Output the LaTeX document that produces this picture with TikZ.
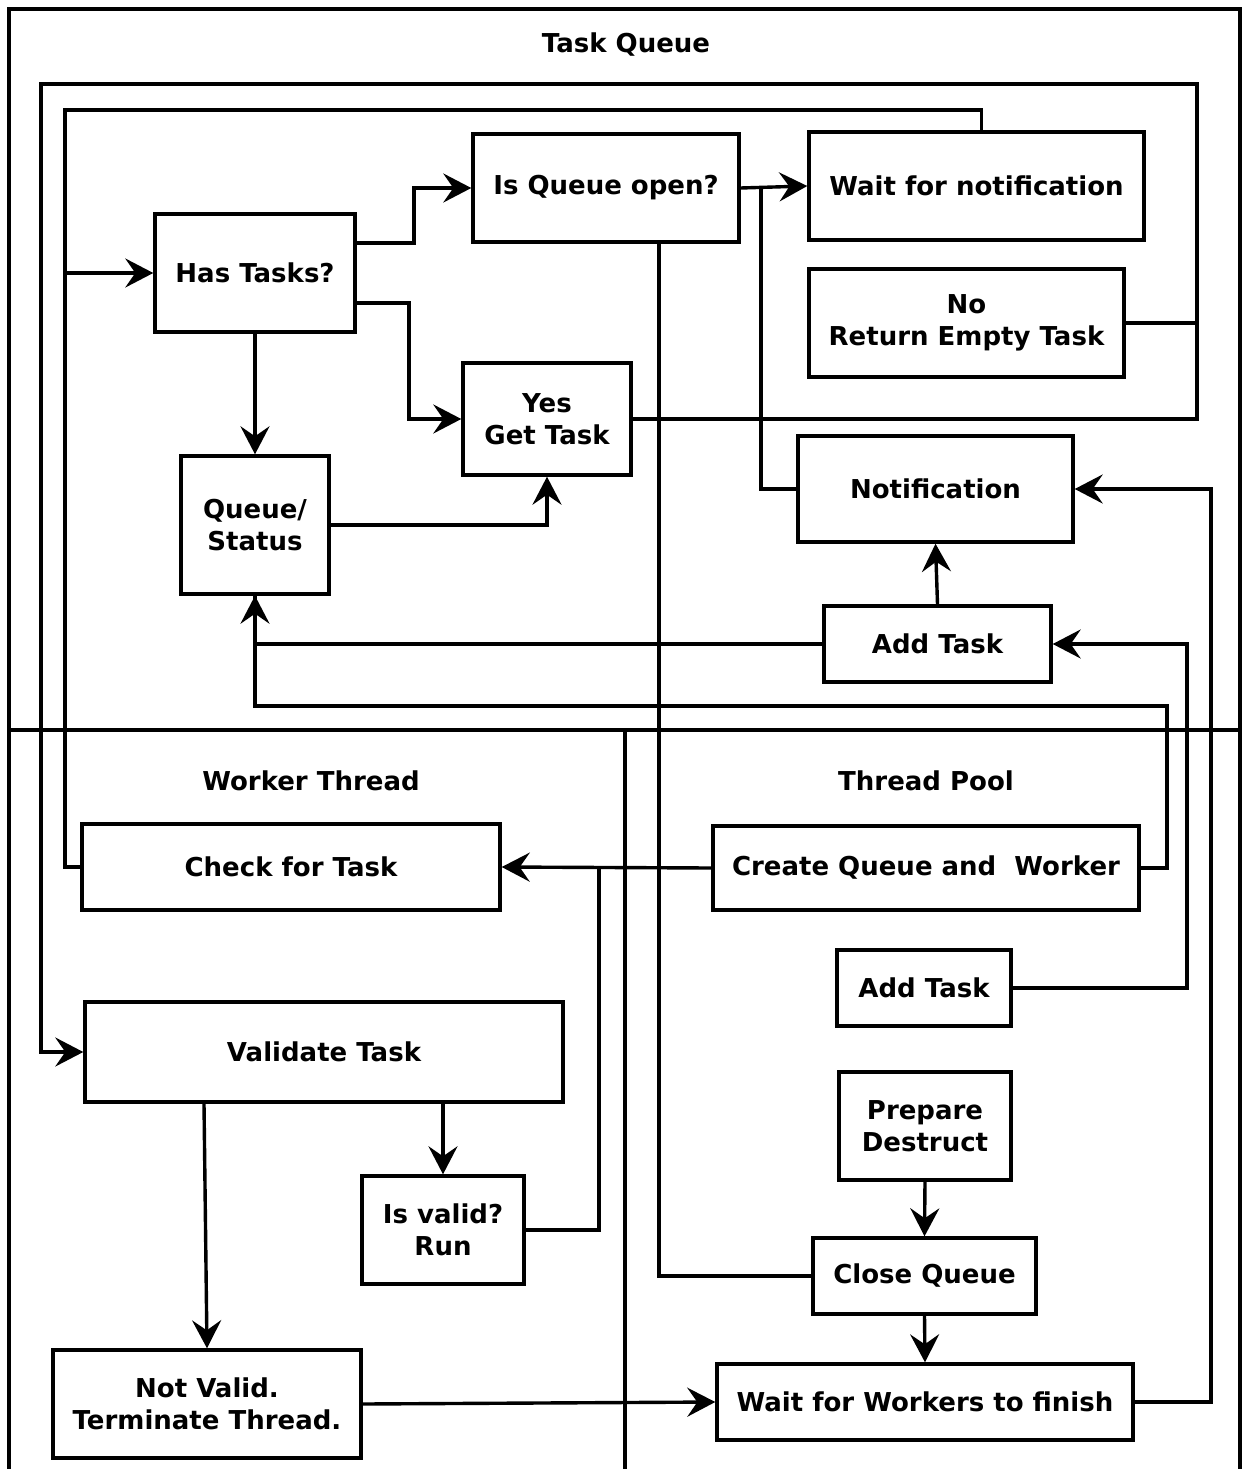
\documentclass[tikz,border=0pt]{standalone}
\usepackage{fontspec}
\setmainfont{DejaVu Sans}
\usetikzlibrary{arrows.meta,calc}
\begin{document}
\begin{tikzpicture}[x=1pt,y=-1pt,line width=3.4pt,
  box/.style={draw,rectangle,inner sep=0pt,align=center,
    font=\fontsize{26}{32}\selectfont\bfseries},
  ttl/.style={inner sep=0pt,font=\fontsize{26}{32}\selectfont\bfseries},
  arr/.style={-{Stealth[length=28pt,width=29pt,inset=10pt]}}]
\useasboundingbox (0,0) rectangle (1248,1469);

% swimlane frame
\draw (9,1469) -- (9,9) -- (1240,9) -- (1240,1469);
\draw (9,730) -- (1240,730);
\draw (625,730) -- (625,1469);
\node[ttl] (tq) at (626,45) {Task Queue};
\node[ttl] (wt) at (311,781) {Worker Thread};
\node[ttl] (tp) at (926,781) {Thread Pool};

% Task Queue lane
\node[box,minimum width=200,minimum height=118] (has) at (255,273) {Has Tasks?};
\node[box,minimum width=266,minimum height=108] (isq) at (606,188) {Is Queue open?};
\node[box,minimum width=335,minimum height=108] (wait) at (976.5,186) {Wait for notification};
\node[box,minimum width=315,minimum height=108] (noret) at (966.5,323) {No\\Return Empty Task};
\node[box,minimum width=168,minimum height=112] (yes) at (547,419) {Yes\\Get Task};
\node[box,minimum width=148,minimum height=138] (qs) at (255,525) {Queue/\\Status};
\node[box,minimum width=275,minimum height=106] (notif) at (935.5,489) {Notification};
\node[box,minimum width=227,minimum height=76] (add1) at (937.5,644) {Add Task};

% Worker Thread lane
\node[box,minimum width=418,minimum height=86] (check) at (291,867) {Check for Task};
\node[box,minimum width=478,minimum height=100] (val) at (324,1052) {Validate Task};
\node[box,minimum width=162,minimum height=108] (valid) at (443,1230) {Is valid?\\Run};
\node[box,minimum width=308,minimum height=108] (notv) at (207,1404) {Not Valid.\\Terminate Thread.};

% Thread Pool lane
\node[box,minimum width=426,minimum height=84] (create) at (926,868) {Create Queue and\ \ Worker};
\node[box,minimum width=174,minimum height=76] (add2) at (924,988) {Add Task};
\node[box,minimum width=172,minimum height=108] (prep) at (925,1126) {Prepare\\Destruct};
\node[box,minimum width=223,minimum height=76] (closeq) at (924.5,1276) {Close Queue};
\node[box,minimum width=416,minimum height=76] (waitw) at (925,1402) {Wait for Workers to finish};

% connectors
\draw[arr] ($(has.east)+(0,-30)$) -| (414,188) -- (isq.west);
\draw[arr] ($(has.east)+(0,30)$) -| (409,419) -- (yes.west);
\draw[arr] (has.south) -- (qs.north);
\draw[arr] (qs.east) -| (yes.south);
\draw[arr] (isq.east) -- (wait.west);
\draw (notif.west) -| (761,187.5);
\draw (closeq.west) -| ($(isq.south)+(53,0)$);
\draw[arr] (add1.north) -- (notif.south);
\draw (create.east) -| (1167,706) -| (qs.south);
\draw[arr] (add1.west) -| (qs.south);
\draw[arr] (add2.east) -| (1187,644) -- (add1.east);
\draw[arr] (waitw.east) -| (1211,489) -- (notif.east);
\draw[arr] (create.west) -- (check.east);
\draw (valid.east) -| (599,867);
\draw[arr] (valid.north |- val.south) -- (valid.north);
\draw[arr] ($(val.south)+(-120,0)$) -- (notv.north);
\draw[arr] (notv.east) -- (waitw.west);
\draw[arr] (prep.south) -- (closeq.north);
\draw[arr] (closeq.south) -- (waitw.north);
\draw[arr] (yes.east) -| (1197,84) -| (41,1052) -- (val.west);
\draw (noret.east) -- (1197,323);
\draw (check.west) -| (65,110) -| ($(wait.north)+(5,0)$);
\coordinate (hj) at (65,273);
\draw[arr] (hj) -- (has.west);
\end{tikzpicture}
\end{document}
